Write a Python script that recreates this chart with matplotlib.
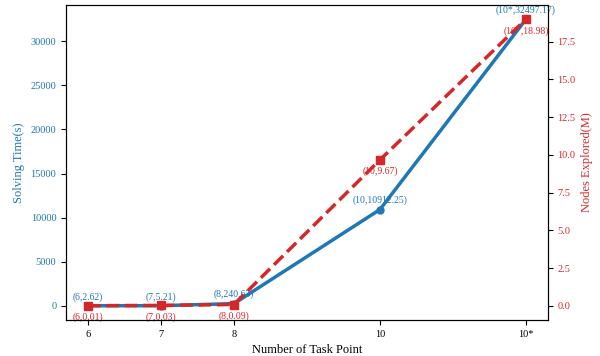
import matplotlib
matplotlib.use("Agg")
import matplotlib.pyplot as plt

plt.rcParams['font.family'] = ['Liberation Serif', 'DejaVu Serif']

x_pos = [6, 7, 8, 10, 12]
x_labels = ['6', '7', '8', '10', '10*']
solve_time = [2.62, 5.21, 240.63, 10912.25, 32497.17]
nodes = [0.01, 0.03, 0.09, 9.67, 18.98]
blue_text = ['(6,2.62)', '(7,5.21)', '(8,240.63)', '(10,10912.25)', '(10*,32497.17)']
red_text = ['(6,0.01)', '(7,0.03)', '(8,0.09)', '(10,9.67)', '(10*,18.98)']

blue = '#1f77b4'
red = '#d62728'

fig = plt.figure(figsize=(6.0, 3.56), dpi=100)
ax1 = fig.add_axes([0.11, 0.101, 0.803, 0.885])
ax2 = ax1.twinx()

ax1.plot(x_pos, solve_time, color=blue, lw=2.5, marker='o', ms=5, zorder=4)
ax2.plot(x_pos, nodes, color=red, lw=2.5, ls='--', marker='s', ms=6, zorder=4)

for xv, yv, t in zip(x_pos, solve_time, blue_text):
    ax1.annotate(t, (xv, yv), xytext=(0, 3), textcoords='offset points',
                 ha='center', va='bottom', fontsize=7, color=blue, zorder=1)
for xv, yv, t in zip(x_pos, nodes, red_text):
    ax1.annotate(t, (xv, yv), xycoords=ax2.transData, xytext=(0, -5),
                 textcoords='offset points', ha='center', va='top',
                 fontsize=7, color=red, zorder=1)

ax1.set_xticks(x_pos)
ax1.set_xticklabels(x_labels)
ax1.set_xlabel('Number of Task Point', fontsize=9)
ax1.set_ylabel('Solving Time(s)', fontsize=9, color=blue)
ax2.set_ylabel('Nodes Explored(M)', fontsize=9, color=red)
ax1.tick_params(axis='y', labelcolor=blue, labelsize=7.5)
ax2.tick_params(axis='y', labelcolor=red, labelsize=7.5)
ax1.tick_params(axis='x', labelsize=7.5)

fig.savefig('out.png', dpi=100)
